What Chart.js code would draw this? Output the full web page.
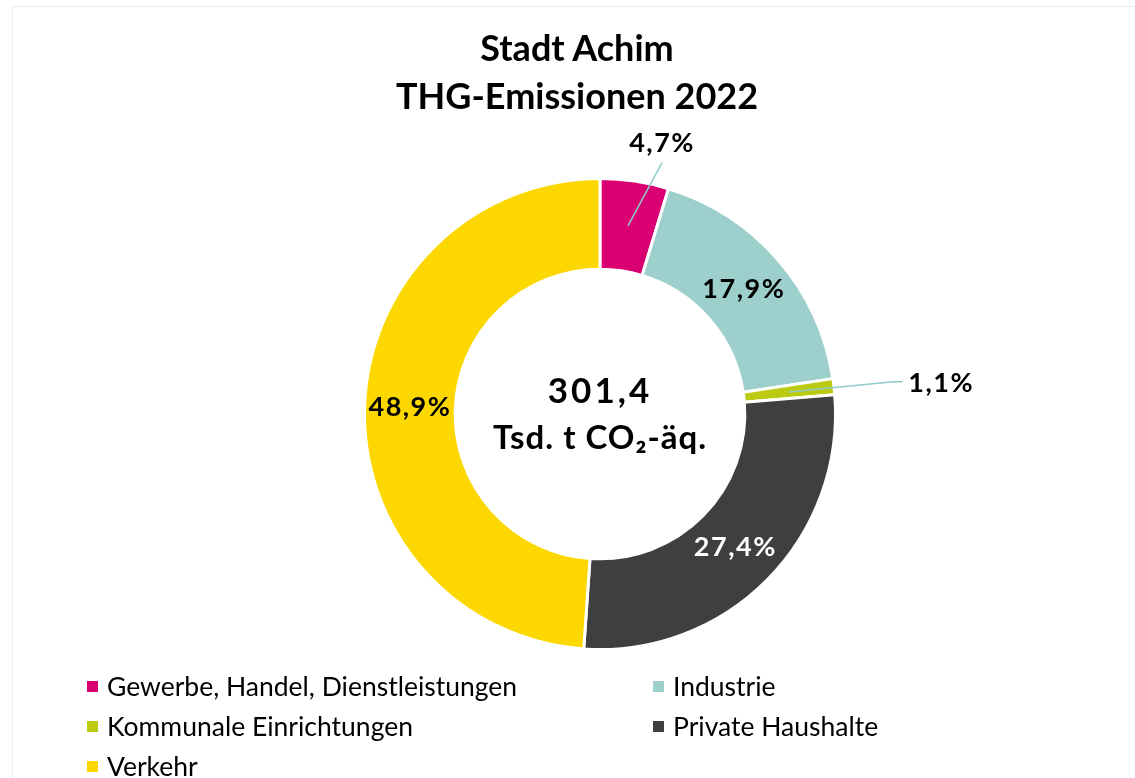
<!DOCTYPE html>
<html>
<head>
<meta charset="utf-8">
<script src="https://cdn.jsdelivr.net/npm/chart.js@4"></script>
<style>
  html, body { margin: 0; padding: 0; background: #fff; overflow: hidden; }
  #wrap { position: relative; width: 1135px; height: 778px; overflow: hidden; }
  #frame { position: absolute; left: 12px; top: 6px; width: 1200px; height: 800px; border: 1px solid #e2efee; }
  #c { position: absolute; left: 0; top: 0; }
  #title { position: absolute; left: 0; width: 1154px; top: 23px; text-align: center;
    font: bold 36px Lato, sans-serif; line-height: 48px; color: #000; }
  .lg { position: absolute; font: 26.5px Lato, sans-serif; color: #000; white-space: nowrap; }
  .lg span { position: absolute; width: 11px; height: 11px; left: -20px; top: 11px; }
</style>
</head>
<body>
<div id="wrap">
  <div id="frame"></div>
  <canvas id="c" width="1154" height="778"></canvas>
  <div id="title">Stadt Achim<br>THG-Emissionen 2022</div>
  <div id="legend"></div>
</div>
<script>
const categories = ['Gewerbe, Handel, Dienstleistungen', 'Industrie', 'Kommunale Einrichtungen', 'Private Haushalte', 'Verkehr'];
const shares = [4.7, 17.9, 1.1, 27.4, 48.9];
const colors = ['#da0073', '#9dcfcc', '#bdca12', '#3f3f3f', '#fcd800'];
const labelColors = ['#000', '#000', '#000', '#fff', '#000'];
const totalText = ['301,4', 'Tsd. t CO₂-äq.'];

// legend in two columns
const legendPos = [[107, 670], [673, 670], [107, 710], [673, 710], [107, 750]];
const lg = document.getElementById('legend');
categories.forEach((name, i) => {
  const d = document.createElement('div');
  d.className = 'lg';
  d.style.left = legendPos[i][0] + 'px';
  d.style.top = legendPos[i][1] + 'px';
  d.innerHTML = '<span style="background:' + colors[i] + '"></span>' + name;
  lg.appendChild(d);
});

const fmt = v => v.toFixed(1).replace('.', ',') + '%';

// callouts for the small slices: angle shift (deg) and radius of line end
const callouts = {
  0: { endAngle: 5.4, endR: 259, tail: 0, textDx: 0, textDy: -19, align: 'center' },
  2: { endAngle: 0.4, endR: 295, tail: 9, textDx: 6, textDy: 1, align: 'left' }
};

const labelPlugin = {
  id: 'labels',
  afterDatasetsDraw(chart) {
    const ctx = chart.ctx;
    const meta = chart.getDatasetMeta(0);
    const arc0 = meta.data[0];
    const cx = arc0.x, cy = arc0.y;
    ctx.save();
    ctx.textBaseline = 'middle';
    meta.data.forEach((arc, i) => {
      const p = arc.tooltipPosition();
      ctx.font = 'bold 27px Lato, sans-serif';
      ctx.letterSpacing = '1.5px';
      ctx.fillStyle = labelColors[i];
      const c = callouts[i];
      if (c) {
        const mid = (arc.startAngle + arc.endAngle) / 2 + c.endAngle * Math.PI / 180;
        const ex = cx + Math.cos(mid) * c.endR;
        const ey = cy + Math.sin(mid) * c.endR;
        ctx.strokeStyle = '#8ecbc8';
        ctx.lineWidth = 1.5;
        ctx.beginPath();
        ctx.moveTo(p.x, p.y);
        ctx.lineTo(ex, ey);
        if (c.tail) ctx.lineTo(ex + c.tail, ey);
        ctx.stroke();
        ctx.fillStyle = '#000';
        ctx.textAlign = c.align;
        ctx.fillText(fmt(shares[i]), ex + c.tail + c.textDx, ey + c.textDy);
      } else {
        ctx.textAlign = 'center';
        ctx.fillText(fmt(shares[i]), p.x, p.y);
      }
    });
    ctx.textAlign = 'center';
    ctx.fillStyle = '#000';
    ctx.font = 'bold 35px Lato, sans-serif';
    ctx.letterSpacing = '3px';
    ctx.fillText(totalText[0], cx, cy - 22);
    ctx.font = 'bold 33px Lato, sans-serif';
    ctx.letterSpacing = '1px';
    ctx.fillText(totalText[1], cx, cy + 24);
    ctx.restore();
  }
};

new Chart(document.getElementById('c'), {
  type: 'doughnut',
  data: {
    labels: categories,
    datasets: [{
      data: shares,
      backgroundColor: colors,
      borderColor: '#fff',
      borderWidth: 3,
      hoverOffset: 0
    }]
  },
  options: {
    responsive: false,
    animation: false,
    cutout: '61.5%',
    layout: { padding: { top: 177, bottom: 127, left: 46, right: 0 } },
    plugins: {
      legend: { display: false },
      tooltip: { enabled: false },
      title: { display: false }
    }
  },
  plugins: [labelPlugin]
});
</script>
</body>
</html>
